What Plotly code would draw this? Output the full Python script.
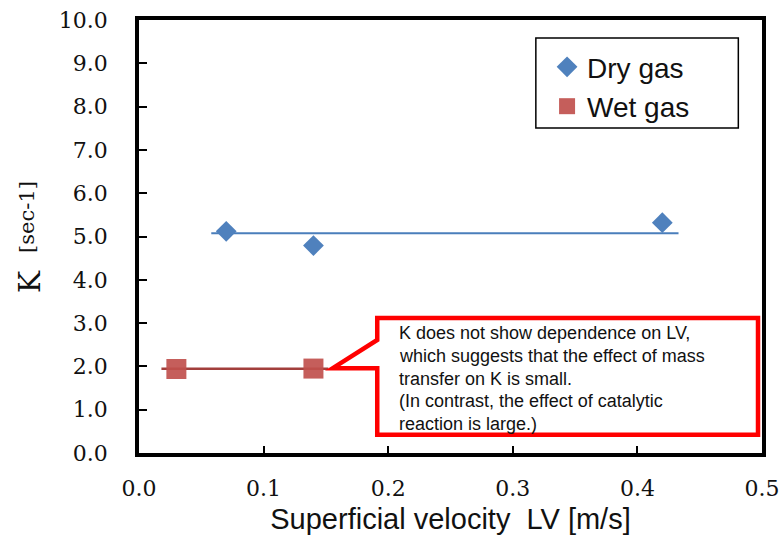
import numpy as np
import plotly.graph_objects as go

# Rate constant K versus superficial velocity LV
dry_lv = [0.07, 0.14, 0.42]
dry_k = [5.12, 4.79, 5.32]
wet_lv = [0.03, 0.14]
wet_k = [1.94, 1.95]

# extent of the horizontal trend lines (x)
dry_fit_range = [0.058, 0.433]
wet_fit_range = [0.018, 0.152]

x_ticks = [0.0, 0.1, 0.2, 0.3, 0.4, 0.5]
y_ticks = [0.0, 1.0, 2.0, 3.0, 4.0, 5.0, 6.0, 7.0, 8.0, 9.0, 10.0]

note_lines = [
    "K does not show dependence on LV,",
    "which suggests that the effect of mass",
    "transfer on K is small.",
    "(In contrast, the effect of catalytic",
    "reaction is large.)",
]

DRY = "#4F81BD"
WET = "#C0504D"

dry_mean = float(np.mean(dry_k))
wet_mean = float(np.mean(wet_k))

fig = go.Figure()

# trend lines (constant fit)
fig.add_trace(go.Scatter(x=dry_fit_range, y=[dry_mean, dry_mean], mode="lines",
                         line=dict(color="#4A7EBB", width=2), showlegend=False,
                         hoverinfo="skip"))
fig.add_trace(go.Scatter(x=wet_fit_range, y=[wet_mean, wet_mean], mode="lines",
                         line=dict(color="#A23F3C", width=2.5), showlegend=False,
                         hoverinfo="skip"))

fig.add_trace(go.Scatter(x=dry_lv, y=dry_k, mode="markers", name="Dry gas",
                         marker=dict(symbol="diamond", size=16, color=DRY)))
fig.add_trace(go.Scatter(x=wet_lv, y=wet_k, mode="markers", name="Wet gas",
                         marker=dict(symbol="square", size=20, color=WET, opacity=0.92)))

# callout box with pointer
bx0, bx1 = 0.1912, 0.4968
by0, by1 = 0.42, 3.12
tip_x, tip_y = 0.1555, 1.96
notch_top = 2.61
path = (f"M {bx0},{notch_top} L {bx0},{by1} L {bx1},{by1} L {bx1},{by0} "
        f"L {bx0},{by0} L {bx0},{tip_y} L {tip_x},{tip_y} Z")
fig.add_shape(type="path", path=path, xref="x", yref="y",
              line=dict(color="#FF0000", width=4.5), fillcolor="white", layer="above")

line_y0 = 2.76
line_step = 0.52
for i, txt in enumerate(note_lines):
    fig.add_annotation(x=0.2074, y=line_y0 - i * line_step, xref="x", yref="y",
                       text=txt, showarrow=False, xanchor="left", yanchor="middle",
                       font=dict(family="Liberation Sans, Arial", size=18, color="#111111"))

# frame around the legend entries
fig.add_shape(type="rect", xref="paper", yref="paper",
              x0=0.637, x1=0.962, y0=0.7506, y1=0.9584,
              line=dict(color="black", width=1.5), fillcolor="white", layer="above")

# y-axis title: K with its unit raised slightly
fig.add_annotation(x=-0.1745, y=0.395, xref="paper", yref="paper", text="K",
                   textangle=-90, showarrow=False, xanchor="center", yanchor="middle",
                   font=dict(family="DejaVu Serif", size=30, color="#111111"))
fig.add_annotation(x=-0.180, y=0.545, xref="paper", yref="paper", text="[sec-1]",
                   textangle=-90, showarrow=False, xanchor="center", yanchor="middle",
                   font=dict(family="DejaVu Serif", size=21, color="#111111"))

tick_font = dict(family="DejaVu Serif", size=22, color="#111111")

fig.update_xaxes(range=[0, 0.5], tickvals=x_ticks, tickformat=".1f",
                 showline=True, linewidth=3.5, linecolor="black", mirror=True,
                 ticks="inside", ticklen=7, tickwidth=1.5, tickcolor="black",
                 showgrid=False, zeroline=False, tickfont=tick_font,
                 ticklabelstandoff=13, ticklabeloverflow="allow", automargin=False,
                 title=dict(text="Superficial velocity\u00a0 LV [m/s]", standoff=10,
                            font=dict(family="Liberation Sans, Arial", size=29,
                                      color="#111111")))
fig.update_yaxes(range=[0, 10], tickvals=y_ticks, tickformat=".1f",
                 showline=True, linewidth=3.5, linecolor="black", mirror=True,
                 ticks="inside", ticklen=8, tickwidth=1.5, tickcolor="black",
                 showgrid=False, zeroline=False, tickfont=tick_font,
                 ticklabelstandoff=23, ticklabeloverflow="allow", automargin=False)

fig.update_layout(
    width=779, height=537,
    margin=dict(l=139, r=17, t=20, b=84),
    paper_bgcolor="white", plot_bgcolor="white",
    legend=dict(x=0.655, y=0.949, xanchor="left", yanchor="top",
                bgcolor="rgba(0,0,0,0)", borderwidth=0,
                font=dict(family="Liberation Sans, Arial", size=28, color="#111111"),
                tracegroupgap=0, itemwidth=30),
)

fig.write_html("out.html")
